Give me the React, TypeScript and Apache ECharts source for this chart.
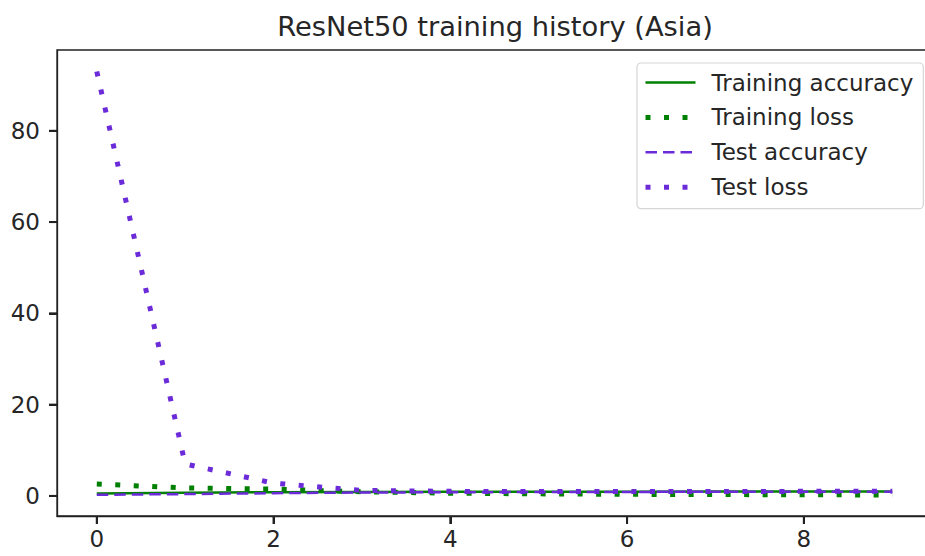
import React, { useEffect, useRef } from "react";
import * as echarts from "echarts";

const epochs = [0, 1, 2, 3, 4, 5, 6, 7, 8, 9];
const trainingAccuracy = [0.55, 0.7, 0.8, 0.86, 0.9, 0.92, 0.94, 0.95, 0.96, 0.97];
const trainingLoss = [2.6, 1.75, 1.5, 0.9, 0.6, 0.45, 0.35, 0.3, 0.25, 0.2];
const testAccuracy = [0.25, 0.4, 0.6, 0.75, 0.8, 0.85, 0.88, 0.9, 0.9, 0.91];
const testLoss = [93.0, 7.0, 2.8, 1.2, 1.0, 0.95, 0.95, 0.95, 1.0, 1.0];
const xTicks = [0, 2, 4, 6, 8];
const yTicks = [0, 20, 40, 60, 80];

const GREEN = "#008000";
const PURPLE = "#6c2bd9";
const FONT = "DejaVu Sans";
const TEXT = "#262626";
const AXIS = "#222222";

// axis ranges (matplotlib-style 5% margins)
const X_MIN = -0.45;
const X_MAX = 9.45;
const Y_MIN = -4.4;
const Y_MAX = 97.7;

const pairs = (ys: number[]) => epochs.map((x, i) => [x, ys[i]]);

const solid = { color: GREEN, width: 2.5, type: "solid" as const };
const dotted = (c: string) => ({ color: c, width: 5, type: [5, 13.5], cap: "butt" as const });
const dashed = { color: PURPLE, width: 2.5, type: [11.5, 6], cap: "butt" as const };

const TICK_LEN = 8;
const TICK_W = 2;

export default function App() {
  const ref = useRef<HTMLDivElement>(null);
  useEffect(() => {
    if (!ref.current) return;
    const chart = echarts.init(ref.current, null, { renderer: "svg" });

    chart.setOption({
      animation: false,
      backgroundColor: "#ffffff",
      title: {
        text: "ResNet50 training history (Asia)",
        left: 490,
        textAlign: "center",
        top: 8,
        textStyle: { fontFamily: FONT, fontSize: 27.3, fontWeight: "normal", color: TEXT },
      },
      grid: {
        left: 57,
        right: -7,
        top: 50,
        bottom: 40,
        show: true,
        borderColor: AXIS,
        borderWidth: 1.3,
        containLabel: false,
        outerBoundsMode: "none",
      },
      legend: {
        orient: "vertical",
        left: 637,
        top: 63,
        padding: [8, 10, 10, 6],
        itemGap: 11.9,
        itemWidth: 50,
        itemHeight: 22,
        borderColor: "#d6d6d6",
        borderWidth: 1.2,
        borderRadius: 4,
        backgroundColor: "rgba(255,255,255,0.8)",
        itemStyle: { opacity: 0 },
        textStyle: {
          fontFamily: FONT,
          fontSize: 23,
          color: TEXT,
          padding: [0, 0, 0, 11],
        },
        data: [
          { name: "Training accuracy", lineStyle: solid },
          { name: "Training loss", lineStyle: dotted(GREEN) },
          { name: "Test accuracy", lineStyle: dashed },
          { name: "Test loss", lineStyle: dotted(PURPLE) },
        ],
      },
      xAxis: {
        type: "value",
        min: X_MIN,
        max: X_MAX,
        splitLine: { show: false },
        axisLine: { show: true, onZero: false, lineStyle: { color: AXIS, width: 1.3 } },
        axisTick: {
          show: true,
          inside: false,
          length: TICK_LEN,
          customValues: xTicks,
          lineStyle: { color: AXIS, width: TICK_W },
        },
        axisLabel: {
          customValues: xTicks,
          margin: 11,
          fontFamily: FONT,
          fontSize: 23,
          color: TEXT,
        },
      },
      yAxis: {
        type: "value",
        min: Y_MIN,
        max: Y_MAX,
        splitLine: { show: false },
        axisLine: { show: true, onZero: false, lineStyle: { color: AXIS, width: 1.3 } },
        axisTick: {
          show: true,
          inside: false,
          length: TICK_LEN,
          customValues: yTicks,
          lineStyle: { color: AXIS, width: TICK_W },
        },
        axisLabel: {
          customValues: yTicks,
          margin: 17,
          fontFamily: FONT,
          fontSize: 23,
          color: TEXT,
        },
      },
      series: [
        {
          name: "Training accuracy",
          type: "line",
          data: pairs(trainingAccuracy),
          showSymbol: false,
          symbol: "none",
          color: GREEN,
          lineStyle: solid,
        },
        {
          name: "Training loss",
          type: "line",
          data: pairs(trainingLoss),
          showSymbol: false,
          symbol: "none",
          color: GREEN,
          lineStyle: dotted(GREEN),
        },
        {
          name: "Test accuracy",
          type: "line",
          data: pairs(testAccuracy),
          showSymbol: false,
          symbol: "none",
          color: PURPLE,
          lineStyle: dashed,
        },
        {
          name: "Test loss",
          type: "line",
          data: pairs(testLoss),
          showSymbol: false,
          symbol: "none",
          color: PURPLE,
          lineStyle: dotted(PURPLE),
        },
      ],
    });

    // tick marks placed through the chart's own scales (filled bars)
    const tickEls: any[] = [];
    xTicks.forEach((v) => {
      const p = chart.convertToPixel({ gridIndex: 0 }, [v, Y_MIN]) as number[];
      if (!p || !isFinite(p[0])) return;
      tickEls.push({
        type: "rect",
        silent: true,
        z: 100,
        shape: { x: p[0] - TICK_W / 2, y: p[1], width: TICK_W, height: TICK_LEN },
        style: { fill: AXIS },
      });
    });
    yTicks.forEach((v) => {
      const p = chart.convertToPixel({ gridIndex: 0 }, [X_MIN, v]) as number[];
      if (!p || !isFinite(p[1])) return;
      tickEls.push({
        type: "rect",
        silent: true,
        z: 100,
        shape: { x: p[0] - TICK_LEN, y: p[1] - TICK_W / 2, width: TICK_LEN, height: TICK_W },
        style: { fill: AXIS },
      });
    });
    chart.setOption({ graphic: { elements: tickEls } });

    return () => chart.dispose();
  }, []);
  return <div ref={ref} style={{ width: 925, height: 556, position: "absolute", left: 0, top: 0 }} />;
}
